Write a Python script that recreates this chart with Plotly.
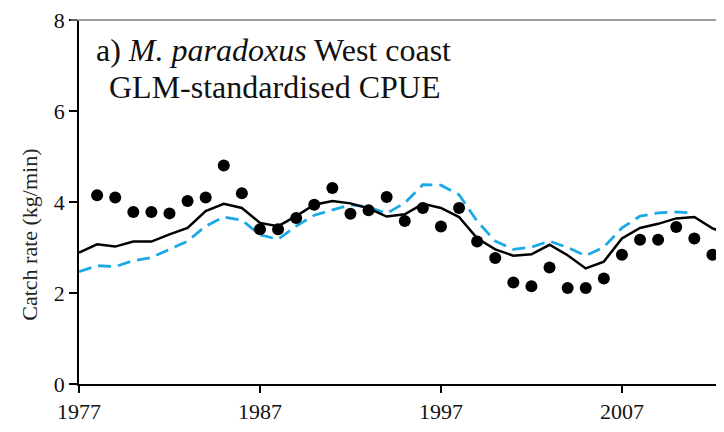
import plotly.graph_objects as go

# observed nominal catch rate (dots)
obs_years = list(range(1978, 2013))
obs_cpue = [4.15, 4.10, 3.78, 3.78, 3.75, 4.02, 4.10, 4.80, 4.19, 3.40,
            3.40, 3.65, 3.94, 4.31, 3.74, 3.82, 4.11, 3.58, 3.87, 3.46,
            3.87, 3.13, 2.77, 2.23, 2.15, 2.56, 2.11, 2.11, 2.32, 2.84,
            3.17, 3.17, 3.45, 3.20, 2.84]

# GLM-standardised (solid black)
glm_years = list(range(1977, 2014))
glm_cpue = [2.89, 3.07, 3.02, 3.13, 3.13, 3.29, 3.43, 3.80, 3.96, 3.87,
            3.54, 3.47, 3.69, 3.94, 4.02, 3.97, 3.86, 3.68, 3.73, 3.96,
            3.87, 3.67, 3.20, 2.96, 2.82, 2.85, 3.06, 2.83, 2.54, 2.69,
            3.20, 3.43, 3.52, 3.64, 3.67, 3.42, 3.28]

# alternative series (dashed blue)
alt_years = list(range(1977, 2012))
alt_cpue = [2.47, 2.60, 2.58, 2.71, 2.78, 2.96, 3.14, 3.47, 3.67, 3.60,
            3.28, 3.18, 3.47, 3.71, 3.83, 3.94, 3.89, 3.75, 3.98, 4.38,
            4.37, 4.16, 3.58, 3.14, 2.96, 3.01, 3.14, 3.00, 2.82, 3.01,
            3.43, 3.69, 3.76, 3.78, 3.76]

x_ticks = [1977, 1987, 1997, 2007]
y_ticks = [0, 2, 4, 6, 8]

serif = "Liberation Serif, Times New Roman, serif"

fig = go.Figure()

fig.add_trace(go.Scatter(
    x=alt_years, y=alt_cpue, mode="lines",
    line=dict(color="#1BA9E6", width=2.8, dash="13px,7px"),
    hoverinfo="skip"
))

fig.add_trace(go.Scatter(
    x=glm_years, y=glm_cpue, mode="lines",
    line=dict(color="black", width=2.5),
    hoverinfo="skip"
))

fig.add_trace(go.Scatter(
    x=obs_years, y=obs_cpue, mode="markers",
    marker=dict(color="black", size=12),
    cliponaxis=False,
    hoverinfo="skip"
))

# panel label, two lines placed separately to get the tight line spacing
fig.add_annotation(
    xref="paper", yref="paper", x=0.302, y=0.918, xanchor="center", yanchor="middle",
    text="a) <i>M. paradoxus</i> West coast", showarrow=False,
    font=dict(family=serif, size=32, color="#111")
)
fig.add_annotation(
    xref="paper", yref="paper", x=0.304, y=0.815, xanchor="center", yanchor="middle",
    text="GLM-standardised CPUE", showarrow=False,
    font=dict(family=serif, size=32, color="#111")
)

fig.add_annotation(
    xref="paper", yref="paper", x=-0.076, y=0.41, xanchor="center", yanchor="middle",
    text="Catch rate (kg/min)", textangle=-90, showarrow=False,
    font=dict(family=serif, size=22, color="#222")
)

# grey top frame line (runs over the top tick as in the original)
fig.add_shape(type="line", xref="paper", yref="paper", x0=-0.013, x1=1, y0=1, y1=1,
              line=dict(color="#808080", width=1.5))

# page body has an 8px margin, so the figure is sized to fit the window
fig.update_layout(
    width=716, height=424,
    margin=dict(l=71, r=0, t=9, b=48),
    showlegend=False,
    plot_bgcolor="white", paper_bgcolor="white",
    font=dict(family=serif, size=22, color="#111"),
    xaxis=dict(
        range=[1977, 2012.64], tickvals=x_ticks, ticks="outside", ticklen=7,
        tickwidth=1.5, tickcolor="black", showline=True, linecolor="black",
        linewidth=1.5, showgrid=False, zeroline=False,
        tickfont=dict(family=serif, size=22), ticklabeloverflow="allow"
    ),
    yaxis=dict(
        range=[0, 8], tickvals=y_ticks, ticks="outside", ticklen=8,
        tickwidth=1.5, tickcolor="black", showline=True, linecolor="black",
        linewidth=1.5, showgrid=False, zeroline=False,
        tickfont=dict(family=serif, size=22), ticklabeloverflow="allow"
    ),
)

fig.write_html("out.html")
